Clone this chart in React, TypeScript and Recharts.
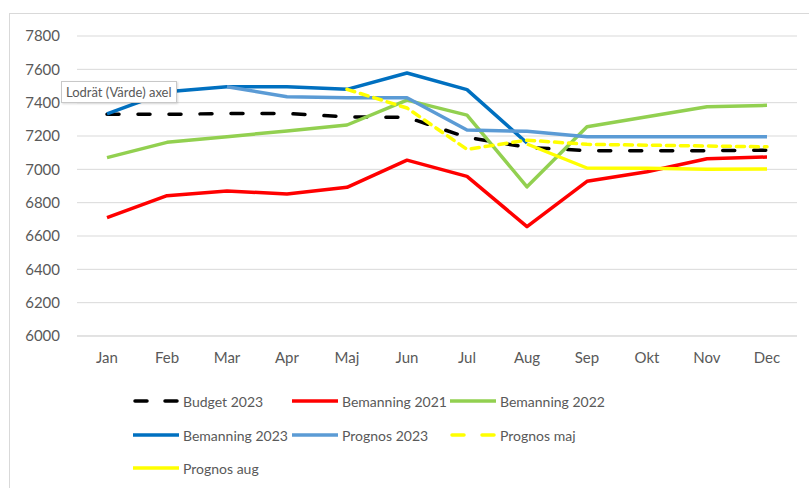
// App.tsx

import { LineChart, Line, XAxis, YAxis, CartesianGrid } from "recharts";

const months = ["Jan", "Feb", "Mar", "Apr", "Maj", "Jun", "Jul", "Aug", "Sep", "Okt", "Nov", "Dec"];
const yTicks = [6000, 6200, 6400, 6600, 6800, 7000, 7200, 7400, 7600, 7800];

const budget2023 = [7330, 7330, 7335, 7335, 7315, 7312, 7192, 7132, 7112, 7112, 7112, 7115];
const bemanning2021 = [6710, 6842, 6870, 6852, 6892, 7055, 6958, 6656, 6928, 6986, 7064, 7074];
const bemanning2022 = [7070, 7162, 7196, 7230, 7266, 7415, 7325, 6895, 7255, 7315, 7375, 7384];
const bemanning2023 = [7333, 7465, 7496, 7496, 7480, 7578, 7478, 7158, null, null, null, null];
const prognos2023 = [null, null, 7496, 7435, 7430, 7430, 7236, 7228, 7196, 7196, 7196, 7196];
const prognosMaj = [null, null, null, null, 7480, 7368, 7120, 7175, 7150, 7145, 7140, 7135];
const prognosAug = [null, null, null, null, null, null, null, 7152, 7008, 7006, 7000, 7002];

const series = [
  { key: "budget", name: "Budget 2023", values: budget2023, color: "#000000", dash: "12 19" },
  { key: "b21", name: "Bemanning 2021", values: bemanning2021, color: "#FF0000" },
  { key: "b22", name: "Bemanning 2022", values: bemanning2022, color: "#92D050" },
  { key: "b23", name: "Bemanning 2023", values: bemanning2023, color: "#0070C0" },
  { key: "p23", name: "Prognos 2023", values: prognos2023, color: "#5B9BD5" },
  { key: "pmaj", name: "Prognos maj", values: prognosMaj, color: "#FFFF00", dash: "8 6" },
  { key: "paug", name: "Prognos aug", values: prognosAug, color: "#FFFF00" },
];

const data = months.map((m, i) => {
  const row: Record<string, any> = { month: m };
  series.forEach((s) => (row[s.key] = s.values[i]));
  return row;
});

const textColor = "#595959";
const font = "Lato, 'Liberation Sans', sans-serif";

const legendCols = [133, 292, 450];
const legendRows = [401, 435, 468];

export default function App() {
  return (
    <div
      style={{
        position: "absolute",
        left: 0,
        top: 0,
        width: 809,
        height: 488,
        background: "#fff",
        fontFamily: font,
        overflow: "hidden",
      }}
    >
      <div
        style={{
          position: "absolute",
          left: 9,
          top: 13,
          width: 800,
          height: 475,
          borderLeft: "1px solid #d9d9d9",
          borderTop: "1px solid #d9d9d9",
        }}
      />
      <LineChart
        width={809}
        height={488}
        data={data}
        margin={{ top: 36, right: 12, left: 17, bottom: 122 }}
      >
        <CartesianGrid vertical={false} stroke="#d9d9d9" strokeWidth={1} />
        <XAxis
          dataKey="month"
          height={30}
          padding={{ left: 30, right: 30 }}
          tickLine={false}
          axisLine={{ stroke: "#d9d9d9" }}
          tickMargin={10}
          tick={{ fill: textColor, fontSize: 15, fontFamily: font }}
        />
        <YAxis
          width={60}
          domain={[6000, 7800]}
          ticks={yTicks}
          axisLine={false}
          tickLine={false}
          tickMargin={11}
          tick={{ fill: textColor, fontSize: 15, fontFamily: font }}
        />
        {series.map((s) => (
          <Line
            key={s.key}
            type="linear"
            dataKey={s.key}
            name={s.name}
            stroke={s.color}
            strokeWidth={3.5}
            strokeDasharray={s.dash}
            strokeLinecap={s.dash ? "round" : "butt"}
            strokeLinejoin="round"
            dot={false}
            activeDot={false}
            isAnimationActive={false}
          />
        ))}
      </LineChart>

      {series.map((s, i) => {
        const x = legendCols[i % 3];
        const y = legendRows[Math.floor(i / 3)];
        return (
          <div
            key={s.key}
            style={{
              position: "absolute",
              left: x,
              top: y - 10,
              height: 20,
              display: "flex",
              alignItems: "center",
              gap: 4,
              whiteSpace: "nowrap",
            }}
          >
            <svg width={46} height={8}>
              <line
                x1={s.dash ? 2 : 0}
                y1={4}
                x2={s.dash ? 44 : 46}
                y2={4}
                stroke={s.color}
                strokeWidth={3.5}
                strokeDasharray={s.dash ? "12 18" : undefined}
                strokeLinecap={s.dash ? "round" : "butt"}
              />
            </svg>
            <span style={{ fontSize: 14, color: textColor }}>{s.name}</span>
          </div>
        );
      })}

      <div
        style={{
          position: "absolute",
          left: 61,
          top: 81,
          height: 22,
          padding: "0 4px",
          boxSizing: "border-box",
          border: "1px solid #c8c8c8",
          background: "#fff",
          boxShadow: "1px 1px 2px rgba(0,0,0,0.15)",
          fontSize: 13,
          lineHeight: "20px",
          color: textColor,
          whiteSpace: "nowrap",
        }}
      >
        Lodrät (Värde) axel
      </div>
    </div>
  );
}
